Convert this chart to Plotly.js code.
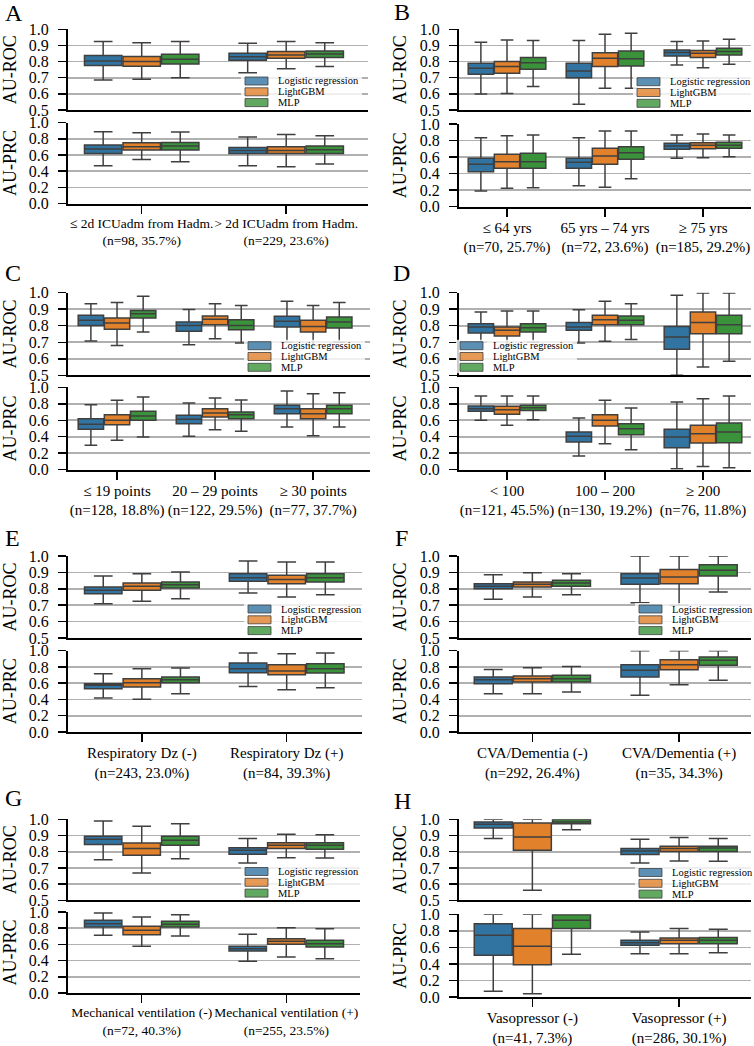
<!DOCTYPE html>
<html>
<head>
<meta charset="utf-8">
<script src="https://cdn.plot.ly/plotly-3.0.1.min.js"></script>
<style>html,body{margin:0;padding:0;background:#fff}#chart{width:754px;height:1046px}</style>
</head>
<body>
<div id="chart"></div>
<script>
// ---------------- DATA ----------------
const models = ['Logistic regression', 'LightGBM', 'MLP'];

const catsA = ['≤ 2d ICUadm from Hadm.<br>(n=98, 35.7%)', '&gt; 2d ICUadm from Hadm.<br>(n=229, 23.6%)'];
const catsB = ['≤ 64 yrs<br>(n=70, 25.7%)', '65 yrs – 74 yrs<br>(n=72, 23.6%)', '≥ 75 yrs<br>(n=185, 29.2%)'];
const catsC = ['≤ 19 points<br>(n=128, 18.8%)', '20 – 29 points<br>(n=122, 29.5%)', '≥ 30 points<br>(n=77, 37.7%)'];
const catsD = ['&lt; 100<br>(n=121, 45.5%)', '100 – 200<br>(n=130, 19.2%)', '≥ 200<br>(n=76, 11.8%)'];
const catsE = ['Respiratory Dz (-)<br>(n=243, 23.0%)', 'Respiratory Dz (+)<br>(n=84, 39.3%)'];
const catsF = ['CVA/Dementia (-)<br>(n=292, 26.4%)', 'CVA/Dementia (+)<br>(n=35, 34.3%)'];
const catsG = ['Mechanical ventilation (-)<br>(n=72, 40.3%)', 'Mechanical ventilation (+)<br>(n=255, 23.5%)'];
const catsH = ['Vasopressor (-)<br>(n=41, 7.3%)', 'Vasopressor (+)<br>(n=286, 30.1%)'];

// each entry per group: [lower whisker, Q1, median, Q3, upper whisker]
const A_ROC_LR  = [[0.686,0.775,0.804,0.837,0.924],[0.731,0.808,0.830,0.851,0.913]];
const A_ROC_GBM = [[0.690,0.771,0.800,0.831,0.917],[0.756,0.820,0.841,0.862,0.924]];
const A_ROC_MLP = [[0.700,0.785,0.814,0.845,0.924],[0.769,0.826,0.847,0.866,0.917]];
const A_PRC_LR  = [[0.467,0.620,0.674,0.723,0.888],[0.467,0.620,0.657,0.694,0.822]];
const A_PRC_GBM = [[0.545,0.661,0.702,0.752,0.876],[0.455,0.620,0.657,0.702,0.855]];
const A_PRC_MLP = [[0.517,0.661,0.711,0.756,0.884],[0.488,0.620,0.665,0.711,0.839]];

const B_ROC_LR  = [[0.599,0.721,0.758,0.789,0.919],[0.535,0.700,0.742,0.789,0.930],[0.779,0.835,0.857,0.872,0.924]];
const B_ROC_GBM = [[0.603,0.727,0.769,0.800,0.934],[0.634,0.769,0.820,0.855,0.969],[0.762,0.826,0.851,0.868,0.928]];
const B_ROC_MLP = [[0.645,0.752,0.793,0.826,0.930],[0.634,0.773,0.818,0.866,0.975],[0.783,0.841,0.862,0.882,0.938]];
const B_PRC_LR  = [[0.190,0.423,0.512,0.585,0.835],[0.254,0.464,0.536,0.585,0.835],[0.585,0.694,0.734,0.766,0.867]];
const B_PRC_GBM = [[0.222,0.464,0.544,0.633,0.859],[0.234,0.512,0.613,0.706,0.915],[0.593,0.702,0.742,0.774,0.879]];
const B_PRC_MLP = [[0.230,0.464,0.544,0.645,0.867],[0.339,0.573,0.653,0.726,0.915],[0.605,0.706,0.742,0.778,0.867]];

const C_ROC_LR  = [[0.708,0.802,0.833,0.863,0.933],[0.685,0.766,0.802,0.823,0.899],[0.700,0.792,0.827,0.857,0.948]];
const C_ROC_GBM = [[0.681,0.778,0.817,0.847,0.940],[0.722,0.806,0.839,0.859,0.933],[0.680,0.762,0.796,0.833,0.923]];
const C_ROC_MLP = [[0.762,0.847,0.873,0.893,0.978],[0.696,0.776,0.802,0.837,0.923],[0.700,0.786,0.823,0.853,0.940]];
const C_PRC_LR  = [[0.296,0.490,0.551,0.619,0.789],[0.405,0.559,0.611,0.660,0.810],[0.518,0.680,0.741,0.781,0.955]];
const C_PRC_GBM = [[0.356,0.547,0.599,0.668,0.842],[0.486,0.640,0.688,0.741,0.870],[0.413,0.619,0.680,0.741,0.923]];
const C_PRC_MLP = [[0.397,0.599,0.652,0.709,0.883],[0.466,0.619,0.668,0.700,0.846],[0.518,0.680,0.741,0.781,0.935]];

const D_ROC_LR  = [[0.700,0.756,0.792,0.812,0.883],[0.696,0.772,0.792,0.819,0.897],[0.500,0.657,0.732,0.796,0.984]];
const D_ROC_GBM = [[0.680,0.738,0.772,0.792,0.889],[0.706,0.806,0.837,0.863,0.948],[0.550,0.752,0.819,0.883,0.998]];
const D_ROC_MLP = [[0.700,0.762,0.788,0.812,0.889],[0.716,0.806,0.833,0.859,0.933],[0.585,0.752,0.806,0.863,0.998]];
const D_PRC_LR  = [[0.599,0.709,0.741,0.773,0.895],[0.166,0.336,0.405,0.457,0.628],[0.012,0.267,0.397,0.490,0.822]];
const D_PRC_GBM = [[0.538,0.672,0.729,0.769,0.895],[0.316,0.530,0.599,0.668,0.842],[0.040,0.324,0.437,0.538,0.862]];
const D_PRC_MLP = [[0.607,0.717,0.753,0.781,0.895],[0.243,0.425,0.498,0.559,0.749],[0.024,0.328,0.457,0.567,0.895]];

const E_ROC_LR  = [[0.709,0.770,0.791,0.811,0.878],[0.774,0.846,0.868,0.892,0.970]];
const E_ROC_GBM = [[0.724,0.791,0.815,0.835,0.892],[0.750,0.831,0.856,0.882,0.963]];
const E_ROC_MLP = [[0.740,0.805,0.825,0.841,0.902],[0.764,0.841,0.868,0.892,0.963]];
const E_PRC_LR  = [[0.418,0.533,0.574,0.594,0.717],[0.561,0.730,0.779,0.848,0.971]];
const E_PRC_GBM = [[0.402,0.553,0.607,0.656,0.779],[0.520,0.705,0.750,0.828,0.963]];
const E_PRC_MLP = [[0.471,0.607,0.643,0.676,0.787],[0.545,0.725,0.779,0.840,0.971]];

const F_ROC_LR  = [[0.736,0.801,0.815,0.831,0.886],[0.715,0.827,0.866,0.892,1.000]];
const F_ROC_GBM = [[0.750,0.811,0.827,0.841,0.898],[0.700,0.831,0.872,0.917,1.000]];
const F_ROC_MLP = [[0.764,0.815,0.835,0.852,0.892],[0.780,0.878,0.913,0.947,1.000]];
const F_PRC_LR  = [[0.471,0.594,0.643,0.676,0.770],[0.451,0.676,0.758,0.828,1.000]];
const F_PRC_GBM = [[0.471,0.615,0.656,0.689,0.791],[0.582,0.766,0.828,0.889,1.000]];
const F_PRC_MLP = [[0.492,0.615,0.656,0.697,0.807],[0.635,0.820,0.881,0.922,1.000]];

const G_ROC_LR  = [[0.751,0.844,0.877,0.895,0.990],[0.730,0.784,0.809,0.825,0.881]];
const G_ROC_GBM = [[0.669,0.778,0.819,0.854,0.957],[0.763,0.819,0.840,0.856,0.907]];
const G_ROC_MLP = [[0.757,0.840,0.870,0.895,0.973],[0.761,0.815,0.840,0.856,0.905]];
const G_PRC_LR  = [[0.712,0.815,0.856,0.897,0.988],[0.391,0.519,0.547,0.576,0.724]];
const G_PRC_GBM = [[0.576,0.720,0.774,0.823,0.938],[0.444,0.601,0.638,0.671,0.807]];
const G_PRC_MLP = [[0.704,0.815,0.848,0.885,0.967],[0.424,0.568,0.609,0.650,0.794]];

const H_ROC_LR  = [[0.881,0.947,0.969,0.984,1.000],[0.730,0.782,0.805,0.819,0.877]];
const H_ROC_GBM = [[0.562,0.809,0.891,0.977,1.000],[0.743,0.802,0.819,0.833,0.887]];
const H_ROC_MLP = [[0.936,0.973,0.984,0.998,1.000],[0.741,0.802,0.823,0.833,0.881]];
const H_PRC_LR  = [[0.069,0.504,0.746,0.887,1.000],[0.524,0.625,0.657,0.685,0.786]];
const H_PRC_GBM = [[0.040,0.391,0.613,0.827,1.000],[0.524,0.645,0.685,0.714,0.827]];
const H_PRC_MLP = [[0.516,0.827,0.927,0.996,1.000],[0.536,0.645,0.685,0.718,0.819]];

const panelData = [
  {letter:'A', cats:catsA, roc:[A_ROC_LR,A_ROC_GBM,A_ROC_MLP], prc:[A_PRC_LR,A_PRC_GBM,A_PRC_MLP]},
  {letter:'B', cats:catsB, roc:[B_ROC_LR,B_ROC_GBM,B_ROC_MLP], prc:[B_PRC_LR,B_PRC_GBM,B_PRC_MLP]},
  {letter:'C', cats:catsC, roc:[C_ROC_LR,C_ROC_GBM,C_ROC_MLP], prc:[C_PRC_LR,C_PRC_GBM,C_PRC_MLP]},
  {letter:'D', cats:catsD, roc:[D_ROC_LR,D_ROC_GBM,D_ROC_MLP], prc:[D_PRC_LR,D_PRC_GBM,D_PRC_MLP]},
  {letter:'E', cats:catsE, roc:[E_ROC_LR,E_ROC_GBM,E_ROC_MLP], prc:[E_PRC_LR,E_PRC_GBM,E_PRC_MLP]},
  {letter:'F', cats:catsF, roc:[F_ROC_LR,F_ROC_GBM,F_ROC_MLP], prc:[F_PRC_LR,F_PRC_GBM,F_PRC_MLP]},
  {letter:'G', cats:catsG, roc:[G_ROC_LR,G_ROC_GBM,G_ROC_MLP], prc:[G_PRC_LR,G_PRC_GBM,G_PRC_MLP]},
  {letter:'H', cats:catsH, roc:[H_ROC_LR,H_ROC_GBM,H_ROC_MLP], prc:[H_PRC_LR,H_PRC_GBM,H_PRC_MLP]}
];

// ---------------- LAYOUT / STYLE ----------------
const W = 754, H = 1046;
const fx = p => p / W;
const fy = p => 1 - p / H;
const FONT = 'Liberation Serif, Times New Roman, serif';
const colors = ['#3274a1', '#e1812c', '#3a923a'];
const legColors = ['rgba(50,116,161,0.8)', 'rgba(225,129,44,0.8)', 'rgba(58,146,58,0.8)'];
const edge = '#3f3f3f';

// pixel geometry per panel
const geom = [
  {x:[68,368], roc:[29.3,110],  prc:[122.7,203.5], xr:[-0.51,1.566], L:[13.5,13],  leg:[245,81],    fs:13.5},
  {x:[459,751], roc:[29.3,110], prc:[124,206.7],   xr:[-0.49,2.49],  L:[402,12],   leg:[637,81.7],  fs:15},
  {x:[68,370], roc:[292.7,375.3], prc:[387.3,469.7], xr:[-0.5,2.58], L:[12.5,273], leg:[248,345.7], fs:15},
  {x:[459,751], roc:[292.7,375.3], prc:[387.3,469.7], xr:[-0.49,2.49], L:[401.5,273], leg:[460,345.7], fs:15},
  {x:[68,362], roc:[556,638],   prc:[650.7,732],   xr:[-0.51,1.52],  L:[12.5,538], leg:[248,609],   fs:15},
  {x:[459,751], roc:[556,638],  prc:[650.7,732],   xr:[-0.5,1.49],   L:[401.5,538], leg:[639,609],  fs:15},
  {x:[68,360], roc:[819.3,900.3], prc:[912,993],   xr:[-0.51,1.51],  L:[13.5,798], leg:[245,871.5], fs:13.5},
  {x:[459,751], roc:[819.3,900.3], prc:[914.3,997], xr:[-0.5,1.49],  L:[402,801],  leg:[639,872.5], fs:15}
];

const traces = [];
const layout = {
  width: W, height: H,
  margin: {l:0, r:0, t:0, b:0},
  paper_bgcolor: '#ffffff', plot_bgcolor: 'rgba(0,0,0,0)',
  showlegend: false,
  boxmode: 'group', boxgap: 0.2, boxgroupgap: 0.03,
  font: {family: FONT, color: '#000000', size: 15},
  shapes: [], annotations: []
};

function col(arr, i) { return arr.map(r => r[i]); }

panelData.forEach((p, pi) => {
  const g = geom[pi];
  ['roc', 'prc'].forEach((metric, mi) => {
    const k = pi * 2 + mi + 1;
    const xs = k === 1 ? 'x' : 'x' + k;
    const ys = k === 1 ? 'y' : 'y' + k;
    const xa = k === 1 ? 'xaxis' : 'xaxis' + k;
    const ya = k === 1 ? 'yaxis' : 'yaxis' + k;
    const dom = metric === 'roc' ? g.roc : g.prc;
    p[metric].forEach((stats, ti) => {
      traces.push({
        type: 'box', orientation: 'v',
        name: models[ti], legendgroup: models[ti], showlegend: false,
        alignmentgroup: p.letter + metric, offsetgroup: 'm' + ti,
        x: p.cats,
        lowerfence: col(stats, 0), q1: col(stats, 1), median: col(stats, 2),
        q3: col(stats, 3), upperfence: col(stats, 4),
        boxpoints: false,
        fillcolor: colors[ti],
        line: {color: edge, width: 1.5},
        whiskerwidth: 0.5,
        xaxis: xs, yaxis: ys,
        hoverinfo: 'y'
      });
    });
    layout[xa] = {
      domain: [fx(g.x[0]), fx(g.x[1])], anchor: ys,
      type: 'category', categoryorder: 'array', categoryarray: p.cats,
      range: g.xr, showgrid: false, zeroline: false,
      showline: true, linecolor: '#000000', linewidth: 2,
      ticks: metric === 'prc' ? 'outside' : '', ticklen: 8, tickwidth: 1.5, tickcolor: '#000000',
      showticklabels: metric === 'prc', tickangle: 0, ticklabelstandoff: -2,
      tickfont: {family: FONT, size: g.fs, color: '#000000'},
      fixedrange: true
    };
    layout[ya] = {
      domain: [fy(dom[1]), fy(dom[0])], anchor: xs,
      range: metric === 'roc' ? [0.5, 1.0] : [0, 1.0],
      tick0: 0, dtick: metric === 'roc' ? 0.1 : 0.2, tickformat: '.1f',
      showgrid: true, gridcolor: '#b0b0b0', gridwidth: 1.6, zeroline: false,
      showline: true, linecolor: '#000000', linewidth: 2,
      ticks: 'outside', ticklen: 8, tickwidth: 1.5, tickcolor: '#000000',
      ticklabelstandoff: 6,
      tickfont: {family: FONT, size: 16, color: '#000000'},
      title: {text: metric === 'roc' ? 'AU-ROC' : 'AU-PRC', font: {family: FONT, size: 18, color: '#000000'}, standoff: 8},
      fixedrange: true
    };
  });

  // panel letter
  layout.annotations.push({
    text: p.letter, xref: 'paper', yref: 'paper', x: fx(g.L[0]), y: fy(g.L[1]),
    xanchor: 'center', yanchor: 'middle', showarrow: false,
    font: {family: FONT, size: 24, color: '#000000'}
  });

  // legend (drawn inside the AU-ROC axes)
  const lx = g.leg[0], ly = g.leg[1], rowH = 10.8;
  layout.shapes.push({
    type: 'rect', xref: 'paper', yref: 'paper', layer: 'above',
    x0: fx(lx - 4), x1: fx(lx + 117), y0: fy(ly - 6), y1: fy(ly + 2 * rowH + 6),
    fillcolor: 'rgba(255,255,255,0.8)', line: {width: 0}
  });
  models.forEach((m, ti) => {
    const cy = ly + ti * rowH;
    layout.shapes.push({
      type: 'rect', xref: 'paper', yref: 'paper', layer: 'above',
      x0: fx(lx), x1: fx(lx + 23), y0: fy(cy + 4), y1: fy(cy - 4),
      fillcolor: legColors[ti], line: {color: 'rgba(63,63,63,0.8)', width: 1}
    });
    layout.annotations.push({
      text: m, xref: 'paper', yref: 'paper', x: fx(lx + 31), y: fy(cy),
      xanchor: 'left', yanchor: 'middle', showarrow: false,
      font: {family: FONT, size: 10.5, color: '#000000'}
    });
  });
});

Plotly.newPlot('chart', traces, layout, {staticPlot: true, displayModeBar: false});
</script>
</body>
</html>
